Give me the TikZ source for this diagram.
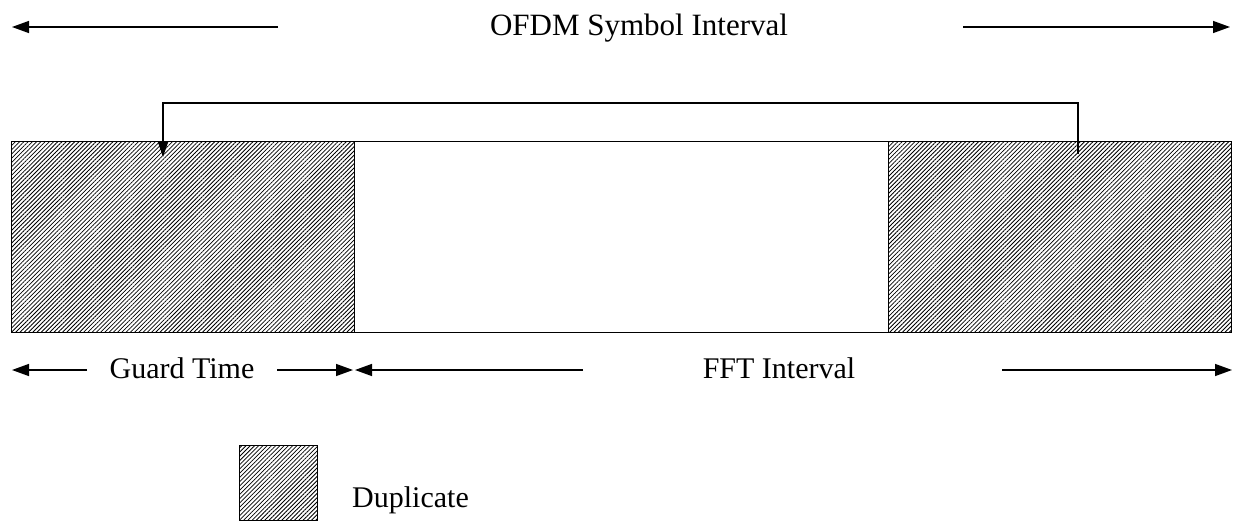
\documentclass[tikz,border=0pt]{standalone}
\usepackage{fontspec}
\setmainfont{Liberation Serif}
\usetikzlibrary{arrows.meta,patterns.meta}
\begin{document}
\begin{tikzpicture}[x=1pt,y=-1pt,
  hatched/.style={draw=black, line width=1.4pt, inner sep=0pt, anchor=north west,
    pattern={Lines[angle=45,distance=3pt,line width=0.8pt]}},
  plainbox/.style={draw=black, line width=1.4pt, inner sep=0pt, anchor=north west, fill=white},
  lbl/.style={font=\fontsize{30}{34}\selectfont, anchor=base, inner sep=0pt},
  arr/.style={line width=1.4pt, -{Triangle[length=17pt,width=12pt]}}]
\useasboundingbox (0,0) rectangle (1242,522);
% blocks
\node[plainbox, minimum width=534pt, minimum height=191pt] (mid) at (354,141) {};
\node[hatched, minimum width=343pt, minimum height=191pt] (gi) at (11,141) {};
\node[hatched, minimum width=343pt, minimum height=191pt] (src) at (888,141) {};
% legend
\node[hatched, minimum width=78pt, minimum height=75pt] (leg) at (239,445) {};
\node[lbl, anchor=base west] (dup) at (352,507) {Duplicate};
% labels
\node[lbl, font=\fontsize{31}{35}\selectfont] (ofdm) at (639,35) {OFDM Symbol Interval};
\node[lbl] (guard) at (182,378) {Guard Time};
\node[lbl] (fft) at (779,378) {FFT Interval};
% arrow coordinates
\coordinate (t1) at (278,27); \coordinate (t1e) at (12,27);
\coordinate (t2) at (963,27); \coordinate (t2e) at (1230,27);
\coordinate (g1) at (87,370); \coordinate (g1e) at (12,370);
\coordinate (g2) at (277,370); \coordinate (g2e) at (353,370);
\coordinate (f1) at (583,370); \coordinate (f1e) at (355,370);
\coordinate (f2) at (1002,370); \coordinate (f2e) at (1232,370);
\coordinate (cpS) at (1078,154); \coordinate (cpE) at (163,157);
\draw[arr] (t1) -- (t1e);
\draw[arr] (t2) -- (t2e);
\draw[arr] (g1) -- (g1e);
\draw[arr] (g2) -- (g2e);
\draw[arr] (f1) -- (f1e);
\draw[arr] (f2) -- (f2e);
% cyclic prefix copy bracket
\draw[arr, -{Triangle[length=15pt,width=10pt]}] (cpS) -- (1078,103) -- (163,103) -- (cpE);
\end{tikzpicture}
\end{document}
